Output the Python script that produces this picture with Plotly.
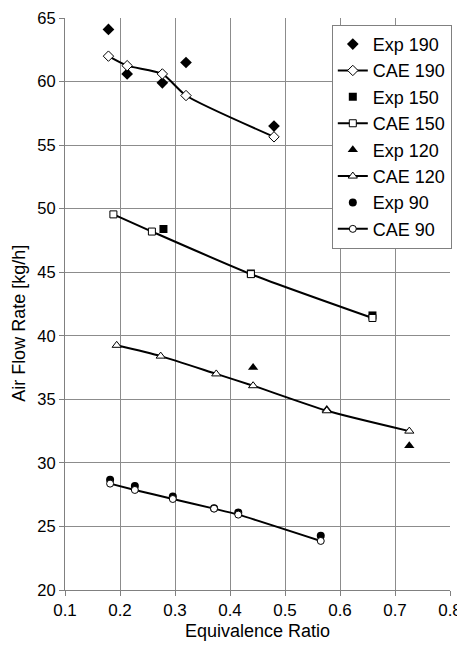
import plotly.graph_objects as go

# Data
exp190_x = [0.179, 0.213, 0.277, 0.320, 0.480]
exp190_y = [64.1, 60.6, 59.9, 61.5, 56.5]
cae190_x = [0.179, 0.213, 0.277, 0.320, 0.480]
cae190_y = [62.0, 61.25, 60.6, 58.9, 55.65]

exp150_x = [0.279, 0.438, 0.659]
exp150_y = [48.4, 44.9, 41.6]
cae150_x = [0.188, 0.258, 0.438, 0.659]
cae150_y = [49.55, 48.2, 44.85, 41.4]

exp120_x = [0.442, 0.576, 0.726]
exp120_y = [37.5, 34.2, 31.35]
cae120_x = [0.194, 0.274, 0.375, 0.442, 0.576, 0.726]
cae120_y = [39.25, 38.4, 37.0, 36.07, 34.1, 32.5]

exp90_x = [0.182, 0.227, 0.296, 0.371, 0.415, 0.565]
exp90_y = [28.68, 28.18, 27.35, 26.43, 26.1, 24.26]
cae90_x = [0.182, 0.227, 0.296, 0.371, 0.415, 0.565]
cae90_y = [28.37, 27.87, 27.16, 26.4, 25.93, 23.86]

x_ticks = [0.1, 0.2, 0.3, 0.4, 0.5, 0.6, 0.7, 0.8]
y_ticks = [20, 25, 30, 35, 40, 45, 50, 55, 60, 65]

fig = go.Figure()

def exp(name, x, y, sym, size):
    fig.add_trace(go.Scatter(x=x, y=y, mode="markers", name=name,
                             marker=dict(symbol=sym, size=size, color="black")))

def cae(name, x, y, sym, size):
    fig.add_trace(go.Scatter(x=x, y=y, mode="lines+markers", name=name,
                             line=dict(color="black", width=2, shape="spline", smoothing=0.6),
                             marker=dict(symbol=sym, size=size, color="white",
                                         line=dict(color="black", width=1))))

exp("Exp 190", exp190_x, exp190_y, "diamond", 9)
cae("CAE 190", cae190_x, cae190_y, "diamond", 8)
exp("Exp 150", exp150_x, exp150_y, "square", 8)
cae("CAE 150", cae150_x, cae150_y, "square", 7)
exp("Exp 120", exp120_x, exp120_y, "triangle-up", 9)
cae("CAE 120", cae120_x, cae120_y, "triangle-up", 8)
exp("Exp 90", exp90_x, exp90_y, "circle", 8)
cae("CAE 90", cae90_x, cae90_y, "circle", 7)

font = "Liberation Sans, Arial, sans-serif"
fig.update_layout(
    width=457, height=647,
    margin=dict(l=57, r=15, t=10, b=65),
    paper_bgcolor="white", plot_bgcolor="white",
    font=dict(family=font, size=17, color="black"),
    showlegend=True,
    legend=dict(x=0.693, y=0.988, xanchor="left", yanchor="top",
                bgcolor="white", bordercolor="#808080", borderwidth=1,
                font=dict(size=18), tracegroupgap=0, itemwidth=30),
    xaxis=dict(range=[0.1, 0.8], tickvals=x_ticks,
               ticktext=[f"{v:.1f}" for v in x_ticks],
               showgrid=True, gridcolor="#8c8c8c", gridwidth=1,
               showline=True, linecolor="#808080", linewidth=1,
               ticks="outside", ticklen=5, tickcolor="#808080",
               zeroline=False, automargin=False, ticklabeloverflow="allow",
               title=dict(text="Equivalence Ratio", standoff=4, font=dict(size=18))),
    yaxis=dict(range=[20, 65], tickvals=y_ticks, tickfont=dict(size=16.5),
               showgrid=True, gridcolor="#8c8c8c", gridwidth=1,
               showline=True, linecolor="#808080", linewidth=1,
               ticks="outside", ticklen=5, tickcolor="#808080",
               zeroline=False, automargin=False, ticklabeloverflow="allow"),
    annotations=[dict(text="Air Flow Rate [kg/h]", textangle=-90,
                      xref="paper", x=-0.12, xanchor="center",
                      yref="y", y=41.0, yanchor="middle",
                      showarrow=False, font=dict(size=18))],
)

fig.write_html("out.html")
